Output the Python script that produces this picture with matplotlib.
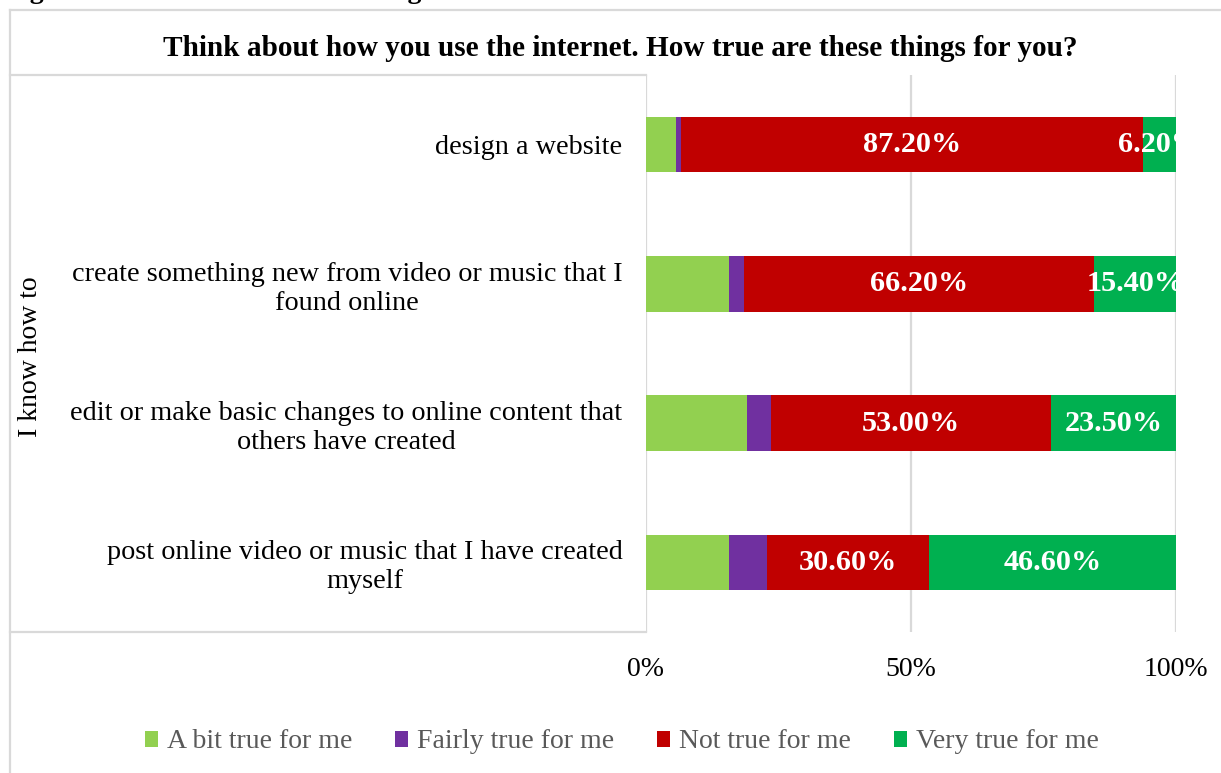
import matplotlib
matplotlib.use("Agg")
import matplotlib.pyplot as plt
from matplotlib.lines import Line2D
from matplotlib.patches import Patch
from matplotlib.ticker import FuncFormatter

plt.rcParams["font.family"] = ["Liberation Serif", "DejaVu Serif"]

# Survey data: share of respondents per answer (percent)
categories = [
    "design a website",
    "create something new from video or music that I\nfound online",
    "edit or make basic changes to online content that\nothers have created",
    "post online video or music that I have created\nmyself",
]
a_bit_true = [5.6, 15.6, 19.0, 15.7]
fairly_true = [1.0, 2.8, 4.5, 7.1]
not_true = [87.2, 66.2, 53.0, 30.6]
very_true = [6.2, 15.4, 23.5, 46.6]

series_names = ["A bit true for me", "Fairly true for me", "Not true for me", "Very true for me"]
series_values = [a_bit_true, fairly_true, not_true, very_true]
series_colors = ["#92D050", "#7030A0", "#C00000", "#00B050"]
labelled_series = {"Not true for me", "Very true for me"}

title = "Think about how you use the internet. How true are these things for you?"
group_label = "I know how to"
x_ticks = [0, 50, 100]

W, H = 1221, 773
fig = plt.figure(figsize=(W / 100, H / 100), dpi=100)

# plot area in pixel terms
left_px, right_px, top_px, bottom_px = 646, 1176, 75, 632
ax = fig.add_axes([left_px / W, 1 - bottom_px / H,
                   (right_px - left_px) / W, (bottom_px - top_px) / H])

ypos = list(range(len(categories)))
cum = [0.0] * len(categories)
for name, vals, color in zip(series_names, series_values, series_colors):
    bars = ax.barh(ypos, vals, left=cum, height=0.4, color=color, label=name, zorder=3)
    if name in labelled_series:
        texts = ax.bar_label(bars, labels=[f"{v:.2f}%" for v in vals], label_type="center",
                             color="white", fontweight="bold", fontsize=21.8)
        for t in texts:
            t.set_clip_on(True)
            t.set_zorder(4)
    cum = [c + v for c, v in zip(cum, vals)]

ax.set_xlim(0, 100)
ax.set_ylim(len(categories) - 0.5, -0.5)
ax.set_xticks(x_ticks)
ax.xaxis.set_major_formatter(FuncFormatter(lambda v, p: f"{v:.0f}%"))
ax.set_yticks(ypos)
ax.set_yticklabels(categories, multialignment="center", fontsize=20.3)
ax.tick_params(axis="y", length=0, pad=17)
ax.tick_params(axis="x", length=0, pad=18, labelsize=20)
ax.grid(axis="x", color="#D9D9D9", linewidth=1.6, zorder=0)
ax.set_axisbelow(True)
for s in ax.spines.values():
    s.set_visible(False)

# chart frame and category label box
def px_line(xs, ys):
    fig.add_artist(Line2D([x / W for x in xs], [1 - y / H for y in ys],
                          color="#D9D9D9", linewidth=1.6, transform=fig.transFigure))

px_line([10, W + 5], [10, 10])
px_line([10, 10], [10, H + 5])
px_line([10, left_px], [top_px, top_px])
px_line([10, left_px], [bottom_px, bottom_px])

fig.text(5 / W, 1 - (-2) / H, "Figure 11: Children's advanced digital skills",
         fontsize=20, fontweight="bold", ha="left", va="baseline")
fig.text(620 / W, 1 - 49 / H, title, fontsize=21.1, fontweight="bold", ha="center", va="center")
fig.text(31 / W, 1 - 357 / H, group_label, fontsize=20, rotation=90, ha="center", va="center")

handles = [Patch(facecolor=c, edgecolor="none") for c in series_colors]
fig.legend(handles, series_names, loc="center", bbox_to_anchor=(622 / W, 1 - 742 / H),
           ncol=4, frameon=False, fontsize=20, labelcolor="#595959",
           handlelength=0.47, handleheight=0.5, handletextpad=0.32, columnspacing=1.55)

fig.savefig("out.png", dpi=100)
